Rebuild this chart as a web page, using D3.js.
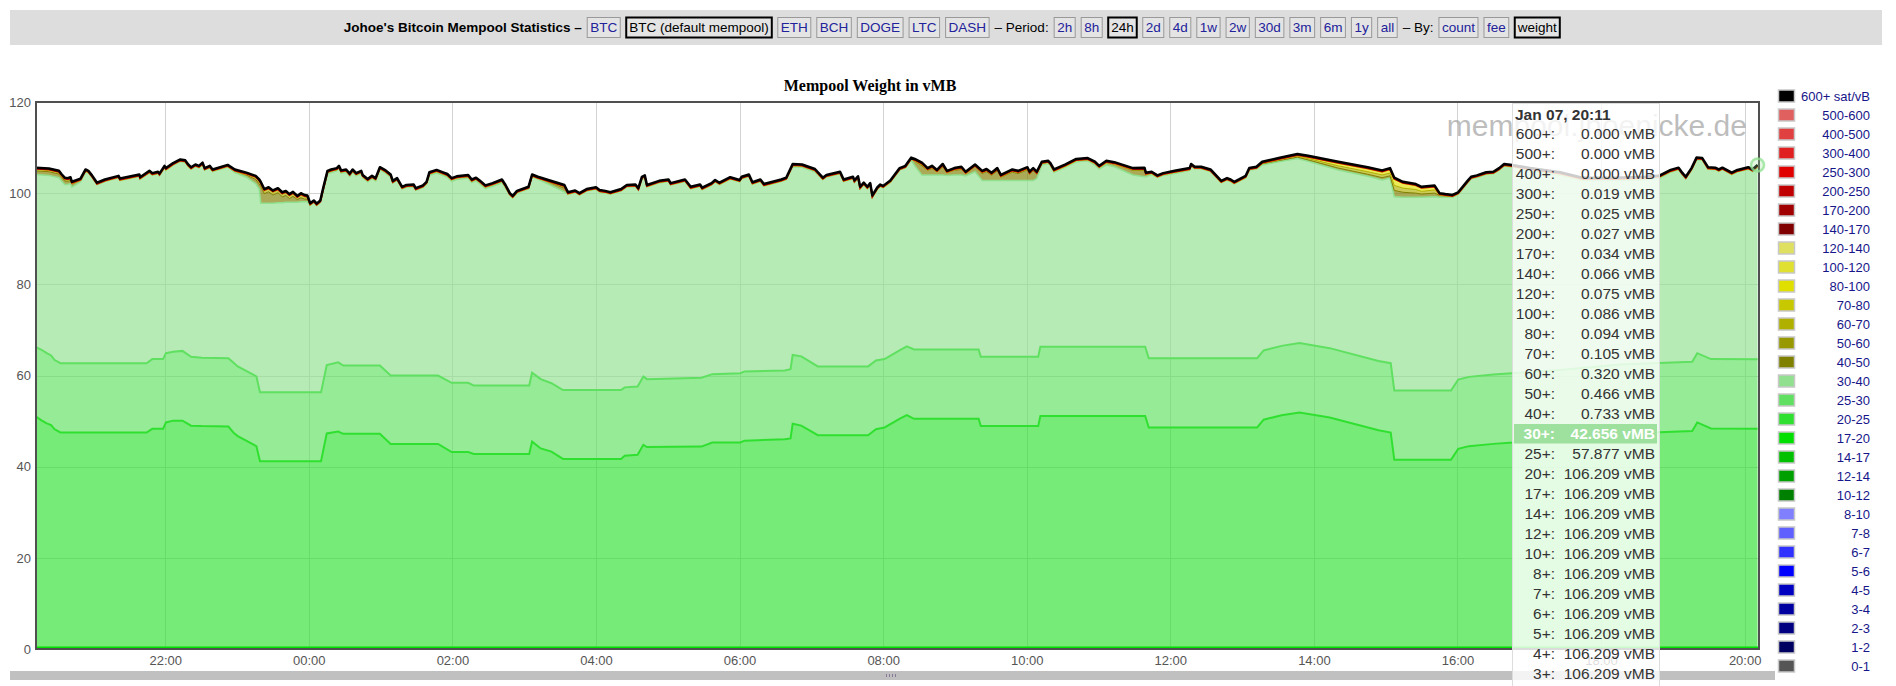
<!DOCTYPE html>
<html>
<head>
<meta charset="utf-8">
<script src="https://cdn.jsdelivr.net/npm/d3@7"></script>
<style>
  body { margin: 0; background: #fff; }
  svg { display: block; font-family: "Liberation Sans", Arial, sans-serif; }
</style>
</head>
<body>
<div id="chart"></div>
<script>
// ---- data (hours since Jan 06 00:00, values in vMB) ----

// top line samples (total mempool weight) and the thin fee bands hanging below it
var times = [
  20.20,20.38,20.52,20.56,20.60,20.64,20.68,20.70,20.82,20.89,
  20.93,20.98,21.05,21.16,21.35,21.37,21.64,21.65,21.78,21.82,
  21.90,21.92,21.99,22.01,22.11,22.21,22.28,22.32,22.36,22.42,
  22.47,22.52,22.55,22.62,22.66,22.87,22.97,23.13,23.26,23.31,
  23.33,23.38,23.44,23.50,23.57,23.63,23.68,23.73,23.78,23.84,
  23.89,23.94,23.98,24.02,24.07,24.11,24.16,24.20,24.26,24.31,
  24.39,24.42,24.45,24.52,24.57,24.61,24.66,24.73,24.75,24.82,
  24.88,24.93,24.99,25.07,25.14,25.17,25.23,25.30,25.36,25.46,
  25.49,25.59,25.64,25.68,25.78,25.88,25.93,25.99,26.06,26.22,
  26.27,26.33,26.38,26.46,26.56,26.69,26.74,26.80,26.84,26.90,
  27.06,27.11,27.19,27.56,27.61,27.71,27.77,27.87,28.00,28.05,
  28.13,28.20,28.35,28.43,28.55,28.59,28.64,28.68,28.71,28.88,
  29.01,29.04,29.24,29.32,29.45,29.48,29.61,29.66,29.72,29.87,
  30.00,30.03,30.13,30.18,30.29,30.34,30.58,30.65,30.74,30.87,
  31.05,31.16,31.21,31.40,31.45,31.58,31.60,31.65,31.68,31.73,
  31.78,31.82,31.85,31.92,31.96,32.00,32.10,32.23,32.31,32.39,
  32.44,32.54,32.62,32.68,32.75,32.83,32.89,32.99,33.09,33.15,
  33.28,33.38,33.44,33.51,33.59,33.64,33.80,33.88,34.01,34.04,
  34.09,34.14,34.21,34.30,34.33,34.38,34.54,34.69,34.85,34.95,
  35.01,35.11,35.22,35.48,35.64,35.66,35.74,35.82,35.90,36.06,
  36.27,36.29,36.34,36.43,36.56,36.71,36.79,36.84,36.89,37.05,
  37.10,37.20,37.28,37.51,37.77,37.92,38.34,38.75,38.95,39.06,
  39.12,39.24,39.42,39.50,39.68,39.75,39.83,39.93,40.01,40.14,
  40.19,40.27,40.40,40.50,40.58,40.65,40.76,41.01,41.43,41.74,
  42.20,42.61,42.82,42.97,43.08,43.13,43.18,43.26,43.33,43.41,
  43.49,43.59,43.64,43.69,43.82,43.90,44.05,44.11,44.18
];

var total = [
  105.6,105.4,104.9,104.1,103.4,103.3,103.5,102.5,103.2,105.2,
  104.9,103.9,102.3,103.0,103.8,103.2,104.1,103.5,104.9,104.4,
  104.7,104.3,106.0,105.5,106.6,107.4,107.2,106.3,105.7,106.3,
  106.0,106.7,105.5,106.0,105.2,106.2,105.2,104.5,103.8,103.0,
  102.5,100.9,101.3,100.6,101.1,100.2,100.5,99.8,100.3,99.4,
  100.0,99.6,99.5,97.8,98.4,97.7,98.4,101.1,104.9,105.2,
  105.5,106.0,105.0,105.2,104.3,105.2,104.4,104.9,104.0,103.1,
  103.8,103.3,105.7,105.0,104.1,102.7,103.3,101.4,101.8,101.9,
  101.1,101.7,102.5,104.6,105.1,104.5,104.2,103.3,103.7,104.0,
  103.0,103.4,102.8,101.7,102.2,103.0,101.8,100.0,99.4,100.5,
  101.4,104.1,103.6,101.8,100.2,100.6,100.0,100.9,101.3,100.7,
  100.5,100.2,100.9,101.8,101.9,101.1,103.6,103.9,101.8,102.7,
  103.0,102.2,103.0,101.4,101.9,101.2,102.2,102.9,102.3,103.5,
  102.9,103.6,104.1,102.4,103.0,102.0,103.0,103.4,106.4,106.3,
  105.3,103.4,104.0,104.7,103.0,103.6,102.8,103.7,101.4,102.3,
  101.4,102.2,99.5,101.3,101.9,101.6,102.8,105.5,106.0,107.8,
  107.5,106.7,105.5,106.0,105.1,106.4,104.9,105.5,105.8,104.7,
  106.3,104.9,105.3,104.5,105.5,104.0,105.2,104.9,105.7,104.7,
  105.5,104.7,106.9,107.1,106.6,105.2,106.3,107.5,107.7,106.9,
  106.0,107.1,106.8,105.5,105.6,104.5,104.7,103.9,104.4,104.9,
  105.5,106.4,105.8,105.8,105.2,102.7,103.3,103.0,102.5,103.8,
  105.5,105.8,106.9,107.7,108.6,108.2,106.9,105.7,105.0,105.5,
  103.4,102.5,102.0,101.4,101.7,100.0,99.8,99.6,100.2,102.7,
  103.6,103.9,104.6,104.7,105.5,106.4,106.2,105.5,104.6,103.4,
  103.4,103.6,103.9,105.1,105.6,104.5,103.6,105.5,107.8,107.7,
  105.7,105.6,105.2,105.6,104.5,105.1,105.7,105.2,106.2
];

// 40-50 sat/vB band
var fee40 = [
  0.8,0.8,0.8,0.8,0.8,0.7,0.7,0.7,0.4,0.3,
  0.25,0.25,0.25,0.25,0.25,0.25,0.25,0.25,0.25,0.25,
  0.25,0.25,0.25,0.25,0.25,0.25,0.25,0.25,0.25,0.25,
  0.25,0.25,0.25,0.25,0.25,0.25,0.4,0.5,0.9,1.1,
  3.7,2.1,2.5,1.8,2.2,1.3,1.5,0.8,1.3,0.6,
  0.9,0.6,0.6,0.3,0.25,0.25,0.25,0.25,0.4,0.4,
  0.35,0.35,0.35,0.35,0.35,0.35,0.35,0.35,0.35,0.35,
  0.35,0.35,0.35,0.35,0.35,0.3,0.3,0.3,0.3,0.3,
  0.3,0.3,0.3,0.4,0.4,0.4,0.4,0.4,0.4,0.4,
  0.4,0.4,0.4,0.4,0.4,0.4,0.4,0.25,0.25,0.25,
  0.25,0.25,0.3,0.8,0.3,0.25,0.25,0.25,0.25,0.25,
  0.25,0.25,0.25,0.25,0.25,0.25,0.25,0.25,0.25,0.25,
  0.25,0.25,0.25,0.25,0.25,0.25,0.25,0.25,0.25,0.25,
  0.25,0.25,0.25,0.25,0.25,0.25,0.25,0.25,0.35,0.35,
  0.35,0.25,0.25,0.25,0.25,0.25,0.25,0.25,0.25,0.25,
  0.25,0.25,0.25,0.25,0.25,0.25,0.25,0.25,0.25,0.3,
  1.0,2.0,1.0,1.4,0.7,1.7,0.6,1.0,1.2,0.5,
  1.1,1.5,1.9,1.1,2.1,0.7,1.8,1.5,2.3,1.3,
  2.1,1.0,0.4,0.35,0.35,0.35,0.35,0.35,0.35,0.4,
  0.4,0.5,0.6,1.0,1.4,0.5,0.35,0.25,0.3,0.35,
  0.3,0.3,0.25,0.25,0.25,0.25,0.25,0.25,0.25,0.25,
  0.2,0.2,0.25,0.25,0.3,0.3,0.4,0.45,0.5,0.5,
  1.4,1.1,0.9,0.7,0.8,0.4,0.3,0.25,0.25,0.25,
  0.25,0.25,0.25,0.25,0.25,0.25,0.25,0.35,0.4,0.4,
  0.4,0.4,0.35,0.3,0.25,0.25,0.25,0.25,0.25,0.25,
  0.25,0.25,0.25,0.25,0.25,0.25,0.25,0.25,0.41
];

// 60-70 sat/vB band
var fee60 = [
  0.4,0.4,0.4,0.4,0.4,0.4,0.4,0.3,0.2,0.2,
  0.15,0.15,0.15,0.15,0.15,0.15,0.15,0.15,0.15,0.15,
  0.15,0.15,0.15,0.15,0.15,0.15,0.15,0.15,0.15,0.15,
  0.15,0.15,0.15,0.15,0.15,0.15,0.2,0.3,0.5,0.6,
  0.6,0.6,0.6,0.6,0.6,0.6,0.6,0.6,0.6,0.5,
  0.6,0.5,0.5,0.15,0.15,0.15,0.15,0.15,0.2,0.2,
  0.17,0.17,0.17,0.17,0.17,0.17,0.17,0.17,0.17,0.17,
  0.17,0.17,0.17,0.17,0.17,0.15,0.15,0.15,0.15,0.15,
  0.15,0.15,0.15,0.2,0.2,0.2,0.2,0.2,0.2,0.2,
  0.2,0.2,0.2,0.2,0.2,0.2,0.2,0.15,0.15,0.15,
  0.15,0.15,0.15,0.4,0.15,0.15,0.15,0.15,0.15,0.15,
  0.15,0.15,0.15,0.15,0.15,0.15,0.15,0.15,0.15,0.15,
  0.15,0.15,0.15,0.15,0.15,0.15,0.15,0.15,0.15,0.15,
  0.15,0.15,0.15,0.15,0.15,0.15,0.15,0.15,0.17,0.17,
  0.17,0.15,0.15,0.15,0.15,0.15,0.15,0.15,0.15,0.15,
  0.15,0.15,0.15,0.15,0.15,0.15,0.15,0.15,0.15,0.15,
  0.3,0.4,0.3,0.4,0.25,0.4,0.25,0.3,0.35,0.25,
  0.3,0.35,0.35,0.35,0.35,0.3,0.35,0.35,0.35,0.35,
  0.35,0.3,0.2,0.17,0.17,0.17,0.17,0.17,0.17,0.2,
  0.2,0.25,0.25,0.3,0.35,0.25,0.17,0.15,0.15,0.17,
  0.15,0.15,0.15,0.15,0.15,0.15,0.15,0.15,0.15,0.15,
  0.1,0.15,0.2,0.2,0.25,0.3,0.5,0.55,0.6,0.6,
  1.1,0.9,0.8,0.6,0.7,0.25,0.2,0.15,0.15,0.15,
  0.15,0.15,0.15,0.15,0.15,0.15,0.15,0.17,0.2,0.2,
  0.2,0.2,0.17,0.15,0.15,0.15,0.15,0.15,0.15,0.15,
  0.15,0.15,0.15,0.15,0.15,0.15,0.15,0.15,0.23
];

// 80-100 sat/vB band
var fee80 = [
  0.3,0.3,0.3,0.3,0.3,0.3,0.3,0.2,0.1,0.1,
  0.05,0.05,0.05,0.05,0.05,0.05,0.05,0.05,0.05,0.05,
  0.05,0.05,0.05,0.05,0.05,0.05,0.05,0.05,0.05,0.05,
  0.05,0.05,0.05,0.05,0.05,0.05,0.1,0.2,0.3,0.4,
  0.4,0.4,0.4,0.4,0.4,0.4,0.4,0.4,0.4,0.3,
  0.4,0.4,0.3,0.05,0.05,0.05,0.05,0.05,0.1,0.1,
  0.08,0.08,0.08,0.08,0.08,0.08,0.08,0.08,0.08,0.08,
  0.08,0.08,0.08,0.08,0.08,0.05,0.05,0.05,0.05,0.05,
  0.05,0.05,0.05,0.1,0.1,0.1,0.1,0.1,0.1,0.1,
  0.1,0.1,0.1,0.1,0.1,0.1,0.1,0.05,0.05,0.05,
  0.05,0.05,0.05,0.3,0.05,0.05,0.05,0.05,0.05,0.05,
  0.05,0.05,0.05,0.05,0.05,0.05,0.05,0.05,0.05,0.05,
  0.05,0.05,0.05,0.05,0.05,0.05,0.05,0.05,0.05,0.05,
  0.05,0.05,0.05,0.05,0.05,0.05,0.05,0.05,0.08,0.08,
  0.08,0.05,0.05,0.05,0.05,0.05,0.05,0.05,0.05,0.05,
  0.05,0.05,0.05,0.05,0.05,0.05,0.05,0.05,0.05,0.05,
  0.2,0.3,0.2,0.2,0.15,0.3,0.15,0.2,0.25,0.15,
  0.2,0.25,0.25,0.25,0.25,0.2,0.25,0.25,0.25,0.25,
  0.25,0.2,0.1,0.08,0.08,0.08,0.08,0.08,0.08,0.1,
  0.1,0.15,0.15,0.2,0.25,0.15,0.08,0.05,0.05,0.08,
  0.05,0.05,0.05,0.05,0.05,0.05,0.05,0.05,0.05,0.05,
  0.1,0.15,0.25,0.35,0.45,0.6,0.9,1.0,1.0,1.1,
  1.7,1.4,1.2,1.0,1.0,0.25,0.2,0.1,0.05,0.05,
  0.05,0.05,0.05,0.05,0.05,0.05,0.05,0.08,0.1,0.1,
  0.1,0.1,0.08,0.05,0.05,0.05,0.05,0.05,0.05,0.05,
  0.05,0.05,0.05,0.05,0.05,0.05,0.05,0.05,0.09
];

// low fee bands (stacked from zero)
var lowTimes = [
  20.20,20.27,20.35,20.41,20.46,20.54,21.74,21.82,21.97,22.01,
  22.11,22.24,22.36,22.51,22.88,22.96,23.01,23.27,23.32,24.17,
  24.25,24.41,24.48,24.99,25.14,25.80,25.99,26.22,26.30,27.07,
  27.11,27.23,27.38,27.54,28.35,28.40,28.58,28.66,28.71,29.47,
  29.62,30.01,30.07,30.63,30.71,30.74,30.86,31.09,31.79,31.90,
  32.02,32.24,32.33,32.43,33.33,33.36,34.16,34.19,35.65,35.70,
  37.21,37.30,37.55,37.80,38.22,38.90,39.07,39.12,39.91,40.01,
  40.16,40.50,41.42,42.26,43.27,43.34,43.53,44.18
];

// 20-25 sat/vB band
var fee20 = [
  51.0,50.2,49.5,49.1,48.2,47.5,47.5,48.3,48.3,49.7,
  50.1,50.1,49.0,48.9,48.8,47.3,46.7,44.5,41.2,41.2,
  47.3,47.7,47.2,47.2,45.0,45.0,43.2,43.2,42.8,42.8,
  45.5,44.0,43.3,41.7,41.7,42.4,42.6,44.8,44.3,44.4,
  45.3,45.3,45.7,46.0,46.2,49.4,49.0,46.9,46.9,48.2,
  48.6,50.6,51.3,50.5,50.5,48.9,48.9,51.1,51.1,48.6,
  48.6,50.3,51.3,51.9,50.8,48.0,47.5,41.5,41.5,43.9,
  44.5,45.0,46.0,47.2,47.8,49.7,48.4,48.33
];

// 25-30 sat/vB band
var fee25 = [
  15.2,15.5,15.4,15.3,15.2,15.2,15.2,15.3,15.3,15.2,
  15.1,15.3,15.1,15.0,15.0,15.4,15.3,15.3,15.1,15.1,
  15.0,15.2,15.0,15.0,15.0,15.0,15.2,15.2,15.0,15.0,
  15.1,15.2,15.0,15.1,15.1,15.0,15.0,15.0,14.9,15.1,
  15.0,15.2,15.2,15.1,15.2,15.1,15.2,15.1,15.1,15.1,
  15.0,15.0,15.1,15.2,15.2,15.2,15.2,15.2,15.2,15.2,
  15.2,15.2,15.2,15.2,15.2,15.2,15.2,15.2,15.2,15.2,
  15.2,15.2,15.2,15.2,15.2,15.2,15.2,15.22
];

// legend (top to bottom)
var legendLabels = ["600+ sat/vB","500-600","400-500","300-400","250-300","200-250","170-200","140-170",
  "120-140","100-120","80-100","70-80","60-70","50-60","40-50","30-40","25-30","20-25","17-20",
  "14-17","12-14","10-12","8-10","7-8","6-7","5-6","4-5","3-4","2-3","1-2","0-1"];
var legendColors = ["#000000","#e06060","#e04040","#e02020","#e00000","#c00000","#a00000","#800000",
  "#e0e060","#e0e030","#e0e000","#c8c800","#b0b000","#989800","#808000","#90e090","#60e060","#30e030","#00e000",
  "#00c000","#00a000","#008000","#8080ff","#6060ff","#3030ff","#0000ff","#0000c0","#0000a0","#000080","#000060","#555555"];

// hover box at the last point (rows below 3+ fall under the window edge)
var tipTitle = "Jan 07, 20:11";
var tipLabels = ["600+:","500+:","400+:","300+:","250+:","200+:","170+:","140+:","120+:","100+:",
  "80+:","70+:","60+:","50+:","40+:","30+:","25+:","20+:","17+:","14+:","12+:","10+:",
  "8+:","7+:","6+:","5+:","4+:","3+:"];
var tipValues = ["0.000","0.000","0.000","0.019","0.025","0.027","0.034","0.066","0.075","0.086",
  "0.094","0.105","0.320","0.466","0.733","42.656","57.877","106.209","106.209","106.209","106.209","106.209",
  "106.209","106.209","106.209","106.209","106.209","106.209"];
var tipHighlight = "30+:";

var yTicks = [0, 20, 40, 60, 80, 100, 120];

var headerItems = [
  ["Johoe's Bitcoin Mempool Statistics \u2013", "title"],
  ["BTC"], ["BTC (default mempool)", "sel"], ["ETH"], ["BCH"], ["DOGE"], ["LTC"], ["DASH"],
  ["\u2013 Period:", "text"],
  ["2h"], ["8h"], ["24h", "sel"], ["2d"], ["4d"], ["1w"], ["2w"], ["30d"], ["3m"], ["6m"], ["1y"], ["all"],
  ["\u2013 By:", "text"],
  ["count"], ["fee"], ["weight", "sel"]
];

// ---- drawing ----
var W = 1896, H = 686;
var plot = {left: 36, top: 102, right: 1759, bottom: 649};

function toDate(h) { return new Date(2025, 0, 6, 0, 0, 0, 0).getTime() + h * 3600e3; }

var svg = d3.select("#chart").append("svg")
    .attr("width", W)
    .attr("height", H);

// header bar with the page buttons
svg.append("rect")
    .attr("x", 10).attr("y", 10)
    .attr("width", 1872).attr("height", 35)
    .attr("fill", "#dddddd");

var hdr = svg.append("g");
var pos = 0, placed = [];
headerItems.forEach(function(it) {
    var kind = it[1] || "btn";
    var hg = hdr.append("g");
    var t = hg.append("text")
        .attr("y", 32)
        .attr("font-size", 13.5)
        .attr("font-weight", kind === "title" ? "bold" : "normal")
        .attr("fill", kind === "btn" ? "#22229a" : "#000")
        .text(it[0]);
    var w = t.node().getComputedTextLength();
    var isBtn = (kind === "btn" || kind === "sel");
    var bw = isBtn ? w + 7 : w;
    placed.push({g: hg, t: t, x: pos, w: bw, btn: isBtn, sel: kind === "sel"});
    pos += bw + 5;
});
var hx0 = 952 - (pos - 5) / 2;
placed.forEach(function(p) {
    if (p.btn) {
        p.g.insert("rect", "text")
            .attr("x", hx0 + p.x + 0.5).attr("y", 17.5)
            .attr("width", p.w - 1).attr("height", 20)
            .attr("fill", "#e4e4e4")
            .attr("stroke", p.sel ? "#000" : "#999")
            .attr("stroke-width", p.sel ? 2 : 1);
        p.t.attr("x", hx0 + p.x + 3.5);
    } else {
        p.t.attr("x", hx0 + p.x);
    }
});

// scales
var x = d3.scaleTime()
    .domain([toDate(20.2), toDate(44.2)])
    .range([plot.left, plot.right]);

var y = d3.scaleLinear()
    .domain([0, 120])
    .range([plot.bottom, plot.top]);

// chart title
svg.append("text")
    .attr("x", 870).attr("y", 91)
    .attr("text-anchor", "middle")
    .attr("font-family", "'Liberation Serif', 'Times New Roman', serif")
    .attr("font-weight", "bold")
    .attr("font-size", 16)
    .text("Mempool Weight in vMB");

// grid
var xTicks = x.ticks(d3.timeHour.every(2));
var grid = svg.append("g").attr("stroke", "#d2d2d2").attr("stroke-width", 1);
grid.selectAll("line.v").data(xTicks).enter().append("line")
    .attr("x1", function(d) { return Math.round(x(d)) + 0.5; })
    .attr("x2", function(d) { return Math.round(x(d)) + 0.5; })
    .attr("y1", plot.top).attr("y2", plot.bottom);
grid.selectAll("line.h").data(yTicks.slice(1, -1)).enter().append("line")
    .attr("x1", plot.left).attr("x2", plot.right)
    .attr("y1", function(d) { return Math.round(y(d)) + 0.5; })
    .attr("y2", function(d) { return Math.round(y(d)) + 0.5; });

svg.append("clipPath").attr("id", "plotclip")
    .append("rect")
    .attr("x", plot.left).attr("y", plot.top)
    .attr("width", plot.right - plot.left).attr("height", plot.bottom - plot.top);

var g = svg.append("g").attr("clip-path", "url(#plotclip)");

// derived stacks
var nLow = Math.min(lowTimes.length, fee20.length, fee25.length);
var lowPts = d3.range(nLow).map(function(i) {
    return {t: toDate(lowTimes[i]), a: fee20[i], b: fee20[i] + fee25[i]};
});
var nTop = Math.min(times.length, total.length, fee40.length, fee60.length, fee80.length);
var upPts = d3.range(nTop).map(function(i) {
    var base = total[i] - fee40[i] - fee60[i] - fee80[i];
    return {t: toDate(times[i]), l30: base, l40: base + fee40[i], l60: base + fee40[i] + fee60[i], tot: total[i]};
});

var alpha = 0.66;

// 20-25 and 25-30
g.append("path")
    .attr("d", d3.area().x(function(d) { return x(d.t); }).y0(y(0)).y1(function(d) { return y(d.a); })(lowPts))
    .attr("fill", "#30e030").attr("fill-opacity", alpha);
g.append("path")
    .attr("d", d3.area().x(function(d) { return x(d.t); }).y0(function(d) { return y(d.a); }).y1(function(d) { return y(d.b); })(lowPts))
    .attr("fill", "#60e060").attr("fill-opacity", alpha);

// 30-40 fills between the low stack and the bottom of the thin upper bands
var band30 = upPts.map(function(d) { return [x(d.t), y(d.l30)]; })
    .concat(lowPts.slice().reverse().map(function(d) { return [x(d.t), y(d.b)]; }));
g.append("path")
    .attr("d", d3.line()(band30) + "Z")
    .attr("fill", "#90e090").attr("fill-opacity", alpha);

// upper bands
function upper(lo, hi, color) {
    g.append("path")
        .attr("d", d3.area().x(function(d) { return x(d.t); }).y0(function(d) { return y(d[lo]); }).y1(function(d) { return y(d[hi]); })(upPts))
        .attr("fill", color).attr("fill-opacity", alpha);
}
upper("l30", "l40", "#808000");
upper("l40", "l60", "#b0b000");
upper("l60", "tot", "#e0e000");

// series lines
function lowLine(key) {
    return d3.line().x(function(d) { return x(d.t); }).y(function(d) { return y(d[key]); })(lowPts);
}
function upLine(key) {
    return d3.line().x(function(d) { return x(d.t); }).y(function(d) { return y(d[key]); })(upPts);
}

g.append("line")
    .attr("x1", plot.left).attr("x2", plot.right)
    .attr("y1", y(0) - 1.5).attr("y2", y(0) - 1.5)
    .attr("stroke", "#00e000").attr("stroke-width", 2);
g.append("path").attr("d", lowLine("a")).attr("fill", "none").attr("stroke", "#30e030").attr("stroke-width", 2);
g.append("path").attr("d", lowLine("b")).attr("fill", "none").attr("stroke", "#60e060").attr("stroke-width", 2);
g.append("path").attr("d", upLine("l30")).attr("fill", "none").attr("stroke", "#90e090").attr("stroke-width", 1.5);
g.append("path").attr("d", upLine("l40")).attr("fill", "none").attr("stroke", "#808000").attr("stroke-width", 1);
g.append("path").attr("d", upLine("l60")).attr("fill", "none").attr("stroke", "#b0b000").attr("stroke-width", 1);
g.append("path").attr("d", upLine("tot")).attr("fill", "none").attr("stroke", "#e0e000").attr("stroke-width", 1.5)
    .attr("transform", "translate(0,1.5)");
g.append("path").attr("d", upLine("tot")).attr("fill", "none").attr("stroke", "#c00000").attr("stroke-width", 2)
    .attr("transform", "translate(0,1)");
g.append("path").attr("d", upLine("tot")).attr("fill", "none").attr("stroke", "#000").attr("stroke-width", 2.5)
    .attr("stroke-linejoin", "round");

// plot frame
svg.append("rect")
    .attr("x", plot.left).attr("y", plot.top)
    .attr("width", plot.right - plot.left).attr("height", plot.bottom - plot.top)
    .attr("fill", "none").attr("stroke", "#505050").attr("stroke-width", 2);

// axes
var xAxis = svg.append("g")
    .attr("transform", "translate(0," + plot.bottom + ")")
    .call(d3.axisBottom(x).ticks(d3.timeHour.every(2)).tickFormat(d3.timeFormat("%H:%M")).tickSize(0).tickPadding(7));
xAxis.select(".domain").remove();
xAxis.selectAll("text").attr("font-family", "'Liberation Sans', Arial, sans-serif").attr("font-size", 13).attr("fill", "#555");

var yAxis = svg.append("g")
    .attr("transform", "translate(" + plot.left + ",0)")
    .call(d3.axisLeft(y).tickValues(yTicks).tickSize(0).tickPadding(5));
yAxis.select(".domain").remove();
yAxis.selectAll("text").attr("font-family", "'Liberation Sans', Arial, sans-serif").attr("font-size", 13).attr("fill", "#555");

// scrollbar under the chart
svg.append("rect")
    .attr("x", 10).attr("y", 671)
    .attr("width", 1765).attr("height", 9)
    .attr("fill", "#c0c0c0");
svg.selectAll("rect.grip").data([886, 889, 892, 895]).enter().append("rect")
    .attr("x", function(d) { return d; }).attr("y", 674)
    .attr("width", 1).attr("height", 3)
    .attr("fill", "#8a7a9a");

// watermark
svg.append("text")
    .attr("x", 1747).attr("y", 136)
    .attr("text-anchor", "end")
    .attr("font-size", 30)
    .attr("fill", "#a8a8a8")
    .attr("fill-opacity", 0.75)
    .text("mempool.jhoenicke.de");

// highlight circle at the hovered point
var last = upPts[upPts.length - 1];
svg.append("circle")
    .attr("cx", x(last.t)).attr("cy", y(last.tot))
    .attr("r", 6.5)
    .attr("fill", "rgba(144,224,144,0.25)")
    .attr("stroke", "rgba(144,224,144,0.75)")
    .attr("stroke-width", 2.5);

// legend
var leg = svg.append("g");
legendLabels.forEach(function(lab, i) {
    var cy = 96 + i * 19;
    leg.append("rect")
        .attr("x", 1778.5).attr("y", cy - 6)
        .attr("width", 16).attr("height", 12)
        .attr("fill", legendColors[i])
        .attr("stroke", "#c8c8c8").attr("stroke-width", 1.5);
    leg.append("text")
        .attr("x", 1870).attr("y", cy + 4.5)
        .attr("text-anchor", "end")
        .attr("font-size", 13)
        .attr("fill", "#16168a")
        .text(lab);
});

// hover box
var tip = svg.append("g");
tip.append("rect")
    .attr("x", 1512.5).attr("y", 103.5)
    .attr("width", 147).attr("height", 620)
    .attr("fill", "rgba(255,255,255,0.8)")
    .attr("stroke", "#dddddd");
tip.append("text")
    .attr("x", 1515).attr("y", 120)
    .attr("font-size", 15.5).attr("font-weight", "bold")
    .attr("fill", "#333")
    .text(tipTitle);
tipLabels.forEach(function(lab, i) {
    var by = 139 + i * 20;
    var hi = lab === tipHighlight;
    if (hi) {
        tip.append("rect")
            .attr("x", 1514).attr("y", by - 15)
            .attr("width", 143).attr("height", 19.5)
            .attr("fill", "#9ee09e");
    }
    tip.append("text")
        .attr("x", 1555).attr("y", by)
        .attr("text-anchor", "end")
        .attr("font-size", 15.5)
        .attr("font-weight", hi ? "bold" : "normal")
        .attr("fill", hi ? "#fff" : "#333")
        .text(lab);
    tip.append("text")
        .attr("x", 1655).attr("y", by)
        .attr("text-anchor", "end")
        .attr("font-size", 15.5)
        .attr("font-weight", hi ? "bold" : "normal")
        .attr("fill", hi ? "#fff" : "#333")
        .text(tipValues[i] + " vMB");
});
</script>
</body>
</html>
